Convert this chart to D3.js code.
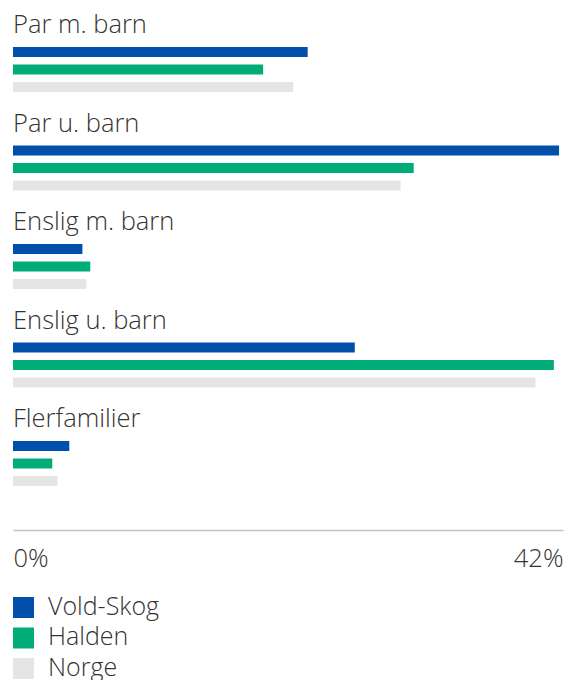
<!DOCTYPE html>
<html><head><meta charset="utf-8">
<script src="https://cdn.jsdelivr.net/npm/d3@7"></script>
<style>
body{margin:0;background:#fff;}
text{font-family:"Open Sans",sans-serif;fill:#333;}
</style></head>
<body>
<svg id="c" width="571" height="680"></svg>
<script>
const categories = ["Par m. barn","Par u. barn","Enslig m. barn","Enslig u. barn","Flerfamilier"];
const series = ["Vold-Skog","Halden","Norge"];
const voldSkog = [22.5, 41.7, 5.3, 26.1, 4.3];
const halden   = [19.1, 30.6, 5.9, 41.3, 3.0];
const norge    = [21.4, 29.6, 5.6, 39.9, 3.4];
const tickValues = [0, 42];
const tickLabels = ["0%","42%"];
const colors = ["#004fab","#00ad78","#e5e5e5"];

const values = [voldSkog, halden, norge];
const svg = d3.select("#c");
const x = d3.scaleLinear().domain([0,42]).range([13,563]);
const y = d3.scaleBand().domain(categories).range([13, 13+5*98.5]);
const yi = d3.scaleBand().domain(series).range([34, 79]).paddingInner(7.5/17.5).paddingOuter(0);
const color = d3.scaleOrdinal().domain(series).range(colors);

const g = svg.selectAll("g.cat").data(categories).join("g").attr("class","cat")
  .attr("transform", d => `translate(0,${y(d)})`);
g.append("text").attr("x",13).attr("y",20).attr("font-size",25.5).attr("font-weight",300).text(d=>d);
g.selectAll("rect").data((d,i)=>series.map((s,j)=>({s, v: values[j][i]})))
  .join("rect")
  .attr("x", x(0)).attr("y", d=>yi(d.s))
  .attr("width", d=>x(d.v)-x(0)).attr("height", yi.bandwidth())
  .attr("fill", d=>color(d.s));

const ax = svg.append("g").attr("transform","translate(0,530)")
  .call(d3.axisBottom(x).tickValues(tickValues).tickSize(0).tickFormat((d,i)=>tickLabels[i]));
ax.select(".domain").attr("stroke","#c4c4c8").attr("stroke-width",1.3);
ax.selectAll("text").attr("font-size",25.5).attr("font-family","'Open Sans',sans-serif").attr("font-weight",300).attr("fill","#333").attr("dy",0).attr("y",37)
  .attr("text-anchor",(d,i)=> i===0 ? "start" : "end");

const lg = svg.selectAll("g.lg").data(series).join("g").attr("class","lg")
  .attr("transform",(d,i)=>`translate(13,${597+i*30.5})`);
lg.append("rect").attr("width",21).attr("height",21).attr("fill",d=>color(d));
lg.append("text").attr("x",35).attr("y",17.5).attr("font-size",25).attr("font-weight",300).text(d=>d);
</script>
</body></html>
